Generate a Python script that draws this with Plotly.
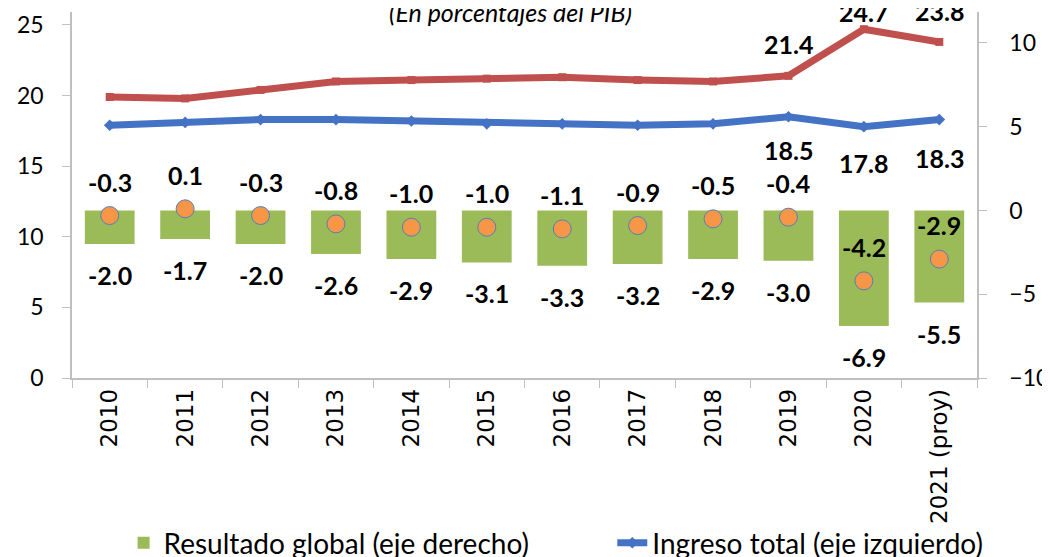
import plotly.graph_objects as go

categories = ["2010", "2011", "2012", "2013", "2014", "2015", "2016", "2017",
              "2018", "2019", "2020", "2021 (proy)"]
resultado_global = [-2.0, -1.7, -2.0, -2.6, -2.9, -3.1, -3.3, -3.2, -2.9, -3.0, -6.9, -5.5]
resultado_primario = [-0.3, 0.1, -0.3, -0.8, -1.0, -1.0, -1.1, -0.9, -0.5, -0.4, -4.2, -2.9]
gasto_total = [19.9, 19.8, 20.4, 21.0, 21.1, 21.2, 21.3, 21.1, 21.0, 21.4, 24.7, 23.8]
ingreso_total = [17.9, 18.1, 18.3, 18.3, 18.2, 18.0, 18.0, 17.9, 18.0, 18.5, 17.8, 18.3]
labelled_years = ["2019", "2020", "2021 (proy)"]
gasto_label_shift = [32, 17, 31]
ingreso_label_shift = [-33, -36, -38]

GREEN = "#9BBB59"
RED = "#C0504D"
BLUE = "#4472C4"
ORANGE = "#F79646"
AXIS = "#BFBFBF"
LBL_FONT = dict(family="Lato", size=25, color="black", weight="bold")
LEG_FONT = dict(family="Lato", size=28, color="black")

fig = go.Figure()

fig.add_trace(go.Bar(
    x=categories, y=resultado_global, yaxis="y2", name="Resultado global (eje derecho)",
    marker=dict(color=GREEN, line=dict(width=0)), width=0.66, showlegend=True, legend="legend",
))
fig.add_trace(go.Scatter(
    x=categories, y=ingreso_total, yaxis="y", name="Ingreso total (eje izquierdo)",
    mode="lines+markers", line=dict(color=BLUE, width=7),
    marker=dict(symbol="diamond", size=9, color=BLUE), showlegend=True, legend="legend2",
))
fig.add_trace(go.Scatter(
    x=categories, y=gasto_total, yaxis="y", name="Gasto total (eje izquierdo)",
    mode="lines+markers", line=dict(color=RED, width=7),
    marker=dict(symbol="square", size=8, color=RED), showlegend=False,
))
fig.add_trace(go.Scatter(
    x=categories, y=resultado_primario, yaxis="y2", name="Resultado primario (eje derecho)",
    mode="markers", marker=dict(size=18, color=ORANGE, line=dict(color="#4F81BD", width=1)),
    showlegend=False,
))

annotations = []
for i, v in enumerate(resultado_global):
    annotations.append(dict(x=i, y=v, xref="x", yref="y2", text=f"{v:.1f}",
                            showarrow=False, yshift=-31, font=LBL_FONT))
for i, v in enumerate(resultado_primario):
    annotations.append(dict(x=i, y=v, xref="x", yref="y2", text=f"{v:.1f}",
                            showarrow=False, yshift=34, font=LBL_FONT))
for j, c in enumerate(labelled_years):
    k = categories.index(c)
    annotations.append(dict(x=k, y=gasto_total[k], xref="x", yref="y", text=f"{gasto_total[k]:.1f}",
                            showarrow=False, yshift=gasto_label_shift[j], font=LBL_FONT))
    annotations.append(dict(x=k, y=ingreso_total[k], xref="x", yref="y", text=f"{ingreso_total[k]:.1f}",
                            showarrow=False, yshift=ingreso_label_shift[j], font=LBL_FONT))
annotations.append(dict(x=0.485, y=1, xref="paper", yref="paper", yanchor="middle",
                        yshift=0, text="<i>(En porcentajes del PIB)</i>", showarrow=False,
                        font=dict(family="Lato", size=25, color="black")))

fig.update_layout(
    width=1042, height=549,
    margin=dict(l=64, r=73, t=4, b=179, autoexpand=False),
    paper_bgcolor="white", plot_bgcolor="white",
    annotations=annotations,
    xaxis=dict(
        type="category", range=[-0.5, len(categories) - 0.5], autorange=False,
        tickangle=-90, showline=True, linecolor=AXIS, linewidth=1.5,
        ticks="outside", tickson="boundaries", ticklen=8, tickcolor=AXIS,
        tickfont=dict(family="DejaVu Sans", size=23, color="black"), showgrid=False,
        zeroline=False, automargin=False,
    ),
    yaxis=dict(
        range=[0, 25.92], autorange=False, dtick=5, tick0=0, showline=True, linecolor=AXIS,
        linewidth=1.5, ticks="outside", ticklen=8, tickcolor=AXIS, showgrid=False, zeroline=False,
        tickfont=dict(family="Lato", size=23, color="black"), ticklabelstandoff=14,
        automargin=False,
    ),
    yaxis2=dict(
        range=[-10, 11.85], autorange=False, dtick=5, tick0=0, overlaying="y", side="right",
        showline=True, linecolor=AXIS, linewidth=1.5, ticks="outside", ticklen=8,
        tickcolor=AXIS, showgrid=False, zeroline=False,
        tickfont=dict(family="Lato", size=23, color="black"), ticklabelstandoff=18,
        automargin=False,
    ),
    legend=dict(
        orientation="h", x=0.057, xanchor="left", y=-0.451, yanchor="middle",
        font=LEG_FONT, bgcolor="rgba(0,0,0,0)",
    ),
    legend2=dict(
        orientation="h", x=0.597, xanchor="left", y=-0.451, yanchor="middle",
        font=LEG_FONT, bgcolor="rgba(0,0,0,0)",
    ),
)

fig.write_html("out.html")
